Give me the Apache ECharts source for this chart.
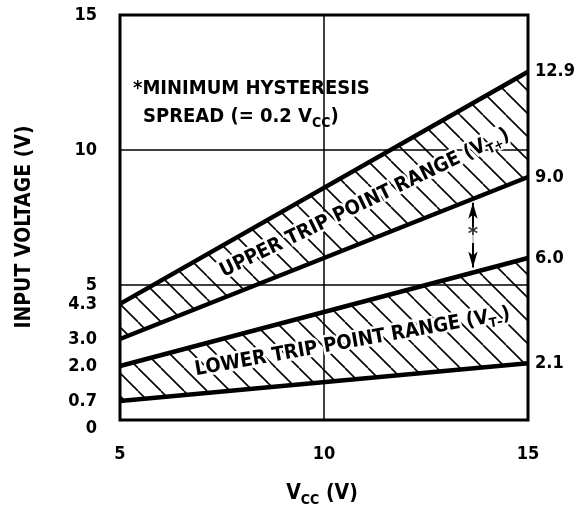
<!DOCTYPE html>
<html><head><meta charset="utf-8">
<script src="https://cdn.jsdelivr.net/npm/echarts@6/dist/echarts.min.js"></script>
<style>html,body{margin:0;padding:0;background:#fff}#c{width:582px;height:510px}</style>
</head><body><div id="c"></div>
<script>
// ---- data ----
const vcc = [5, 15];
const upperTop = [4.3, 12.9];
const upperBottom = [3.0, 9.0];
const lowerTop = [2.0, 6.0];
const lowerBottom = [0.7, 2.1];
const xTicks = [5, 10, 15];
const leftTickValues = [0, 0.7, 2.0, 3.0, 4.3, 5, 10, 15];
const leftTickLabels = ['0', '0.7', '2.0', '3.0', '4.3', '5', '10', '15'];
const rightTickValues = [2.1, 6.0, 9.0, 12.9];
const rightTickLabels = ['2.1', '6.0', '9.0', '12.9'];

const FONT = '"Liberation Sans Narrow","DejaVu Sans Condensed",sans-serif';

function makeHatch() {
  const w = 23, h = 23;
  const c = document.createElement('canvas');
  c.width = w; c.height = h;
  const g = c.getContext('2d');
  g.strokeStyle = '#000'; g.lineWidth = 1.6;
  for (let k = -1; k <= 1; k++) {
    g.beginPath(); g.moveTo(k * w, 0); g.lineTo(k * w + w, h); g.stroke();
  }
  return c;
}
const hatchCanvas = makeHatch();

function interp(arr, x) {
  const t = (x - vcc[0]) / (vcc[1] - vcc[0]);
  return arr[0] + t * (arr[1] - arr[0]);
}

function bandSeries(top, bottom) {
  return {
    type: 'custom', coordinateSystem: 'cartesian2d', silent: true, z: 2,
    data: [[vcc[0], top[0]]],
    renderItem: function (params, api) {
      const pts = [];
      for (let i = 0; i < vcc.length; i++) pts.push(api.coord([vcc[i], top[i]]));
      for (let i = vcc.length - 1; i >= 0; i--) pts.push(api.coord([vcc[i], bottom[i]]));
      return { type: 'polygon', shape: { points: pts },
        style: { fill: { image: hatchCanvas, repeat: 'repeat' }, stroke: null } };
    }
  };
}

function edgeSeries(arr) {
  return {
    type: 'line', silent: true, z: 3, symbol: 'none',
    data: vcc.map((x, i) => [x, arr[i]]),
    lineStyle: { color: '#000', width: 4.5 }
  };
}

function bandLabel(top, bottom, xPos, text, sub) {
  return {
    type: 'custom', coordinateSystem: 'cartesian2d', silent: true, z: 5,
    data: [[xPos, interp(top, xPos)]],
    renderItem: function (params, api) {
      const yMid = (interp(top, xPos) + interp(bottom, xPos)) / 2;
      const c = api.coord([xPos, yMid]);
      const a = api.coord([vcc[0], (top[0] + bottom[0]) / 2]);
      const b = api.coord([vcc[1], (top[1] + bottom[1]) / 2]);
      const ang = Math.atan2(a[1] - b[1], b[0] - a[0]);
      return {
        type: 'text', x: c[0], y: c[1], rotation: ang,
        style: {
          text: '{m|' + text + ' (V}{s|' + sub + '}{m|)}',
          align: 'center', verticalAlign: 'middle',
          rich: {
            m: { fontSize: 20, fontWeight: 'bold', fontFamily: FONT, fill: '#000', lineHeight: 26,
                 stroke: '#fff', lineWidth: 5 },
            s: { fontSize: 13, fontWeight: 'bold', fontFamily: FONT, fill: '#000', lineHeight: 13,
                 verticalAlign: 'bottom', stroke: '#fff', lineWidth: 4 }
          }
        }
      };
    }
  };
}

const labelFont = { fontSize: 18, fontWeight: 'bold', color: '#000', fontFamily: FONT };

const option = {
  animation: false,
  backgroundColor: '#fff',
  grid: { left: 120, right: 54, top: 15, bottom: 90, show: true, borderColor: '#000', borderWidth: 3 },
  xAxis: {
    type: 'value', min: 5, max: 15, interval: 5,
    axisLine: { show: false }, axisTick: { show: false },
    splitLine: { show: true, lineStyle: { color: '#000', width: 1.5 } },
    axisLabel: Object.assign({ margin: 25, customValues: xTicks }, labelFont)
  },
  yAxis: [
    { type: 'value', min: 0, max: 15, interval: 5,
      axisLabel: { show: false }, axisLine: { show: false }, axisTick: { show: false },
      splitLine: { show: true, lineStyle: { color: '#000', width: 1.5 } } },
    { type: 'value', position: 'left', min: 0, max: 15,
      axisLine: { show: false }, axisTick: { show: false }, splitLine: { show: false },
      axisLabel: Object.assign({ margin: 23, customValues: leftTickValues,
        formatter: function (v) {
          const t = leftTickLabels[leftTickValues.indexOf(v)];
          return v === 0 ? '{z|' + t + '}' : t;
        },
        rich: { z: { fontSize: 18, fontWeight: 'bold', color: '#000', fontFamily: FONT, padding: [16, 0, 0, 0] } }
      }, labelFont) },
    { type: 'value', position: 'right', min: 0, max: 15,
      axisLine: { show: false }, axisTick: { show: false }, splitLine: { show: false },
      axisLabel: Object.assign({ margin: 7, customValues: rightTickValues,
        formatter: v => rightTickLabels[rightTickValues.indexOf(v)] }, labelFont) }
  ],
  graphic: [
    { type: 'text', x: 25, y: 227, rotation: Math.PI / 2, silent: true,
      style: { text: 'INPUT VOLTAGE (V)', align: 'center', verticalAlign: 'middle',
        font: 'bold 21px ' + FONT, fill: '#000' } },
    { type: 'text', x: 322, y: 494, silent: true,
      style: { text: '{m|V}{s|CC}{m| (V)}', align: 'center', verticalAlign: 'middle',
        rich: {
          m: { fontSize: 21, fontWeight: 'bold', fontFamily: FONT, fill: '#000', lineHeight: 26 },
          s: { fontSize: 14, fontWeight: 'bold', fontFamily: FONT, fill: '#000', lineHeight: 14, verticalAlign: 'bottom' }
        } } },
    { type: 'text', x: 133, y: 89, silent: true,
      style: { text: '*MINIMUM HYSTERESIS', align: 'left', verticalAlign: 'middle',
        font: 'bold 20px ' + FONT, fill: '#000' } },
    { type: 'text', x: 143, y: 117, silent: true,
      style: { text: '{m|SPREAD (= 0.2 V}{s|CC}{m|)}', align: 'left', verticalAlign: 'middle',
        rich: {
          m: { fontSize: 20, fontWeight: 'bold', fontFamily: FONT, fill: '#000', lineHeight: 26 },
          s: { fontSize: 14, fontWeight: 'bold', fontFamily: FONT, fill: '#000', lineHeight: 14, verticalAlign: 'bottom' }
        } } }
  ],
  series: [
    bandSeries(upperTop, upperBottom),
    bandSeries(lowerTop, lowerBottom),
    edgeSeries(upperTop), edgeSeries(upperBottom),
    edgeSeries(lowerTop), edgeSeries(lowerBottom),
    bandLabel(upperTop, upperBottom, 11.0, 'UPPER TRIP POINT RANGE', 'T+'),
    bandLabel(lowerTop, lowerBottom, 10.7, 'LOWER TRIP POINT RANGE', 'T\u2013'),
    {
      type: 'line', data: [], silent: true, z: 4,
      markLine: {
        silent: true, symbol: ['arrow', 'arrow'], symbolSize: [7, 16],
        lineStyle: { color: '#000', width: 2, type: 'solid' },
        label: { show: false },
        data: [[{ coord: [13.65, 8.05] }, { coord: [13.65, 5.65] }]]
      }
    },
    {
      type: 'scatter', silent: true, z: 6, symbolSize: 0,
      data: [[13.65, 6.85]],
      label: { show: true, position: 'inside', formatter: '*', color: '#000', fontSize: 22,
        fontWeight: 'bold', fontFamily: FONT, backgroundColor: '#fff', padding: [2, 1, 0, 1],
        lineHeight: 14 }
    }
  ]
};

const chart = echarts.init(document.getElementById('c'), null, { renderer: 'canvas' });
chart.setOption(option);
</script>
</body></html>
